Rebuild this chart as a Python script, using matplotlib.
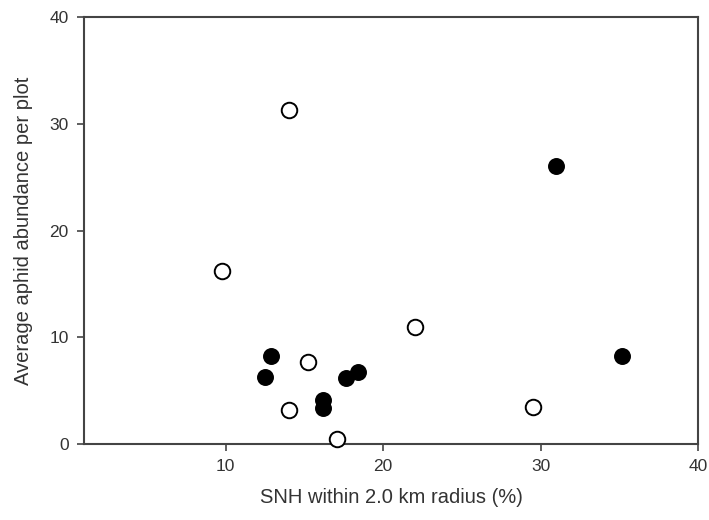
import matplotlib
matplotlib.use("Agg")
import matplotlib.pyplot as plt

plt.rcParams['font.family'] = ['Liberation Sans', 'DejaVu Sans']

# Filled circles
filled_x = [12.9, 12.5, 16.2, 16.2, 17.65, 18.4, 35.2, 31.0]
filled_y = [8.2, 6.25, 4.1, 3.35, 6.2, 6.7, 8.2, 26.05]

# Open circles
open_x = [9.75, 14.0, 15.25, 14.0, 17.1, 22.05, 29.5]
open_y = [16.2, 31.3, 7.7, 3.2, 0.45, 11.0, 3.5]

x_ticks = [10, 20, 30, 40]
y_ticks = [0, 10, 20, 30, 40]

fig = plt.figure(figsize=(7.09, 5.20), dpi=100)
ax = fig.add_axes([0.1185, 0.1462, 0.866, 0.821])

ax.scatter(open_x, open_y, s=125, facecolor='white', edgecolor='black', linewidths=1.4, zorder=3, clip_on=False)
ax.scatter(filled_x, filled_y, s=125, facecolor='black', edgecolor='black', linewidths=1.0, zorder=3, clip_on=False)

ax.set_xlim(1, 40)
ax.set_ylim(0, 40)
ax.set_xticks(x_ticks)
ax.set_yticks(y_ticks)

for sp in ax.spines.values():
    sp.set_color('#444444')
    sp.set_linewidth(1.5)

ax.tick_params(direction='out', length=5, width=1.2, color='#444444',
               labelsize=12.5, labelcolor='#333333', pad=6)

ax.set_xlabel('SNH within 2.0 km radius (%)', fontsize=14.5, color='#333333', labelpad=10)
ax.set_ylabel('Average aphid abundance per plot', fontsize=14.5, color='#333333', labelpad=12)

fig.savefig('out.png', dpi=100)
